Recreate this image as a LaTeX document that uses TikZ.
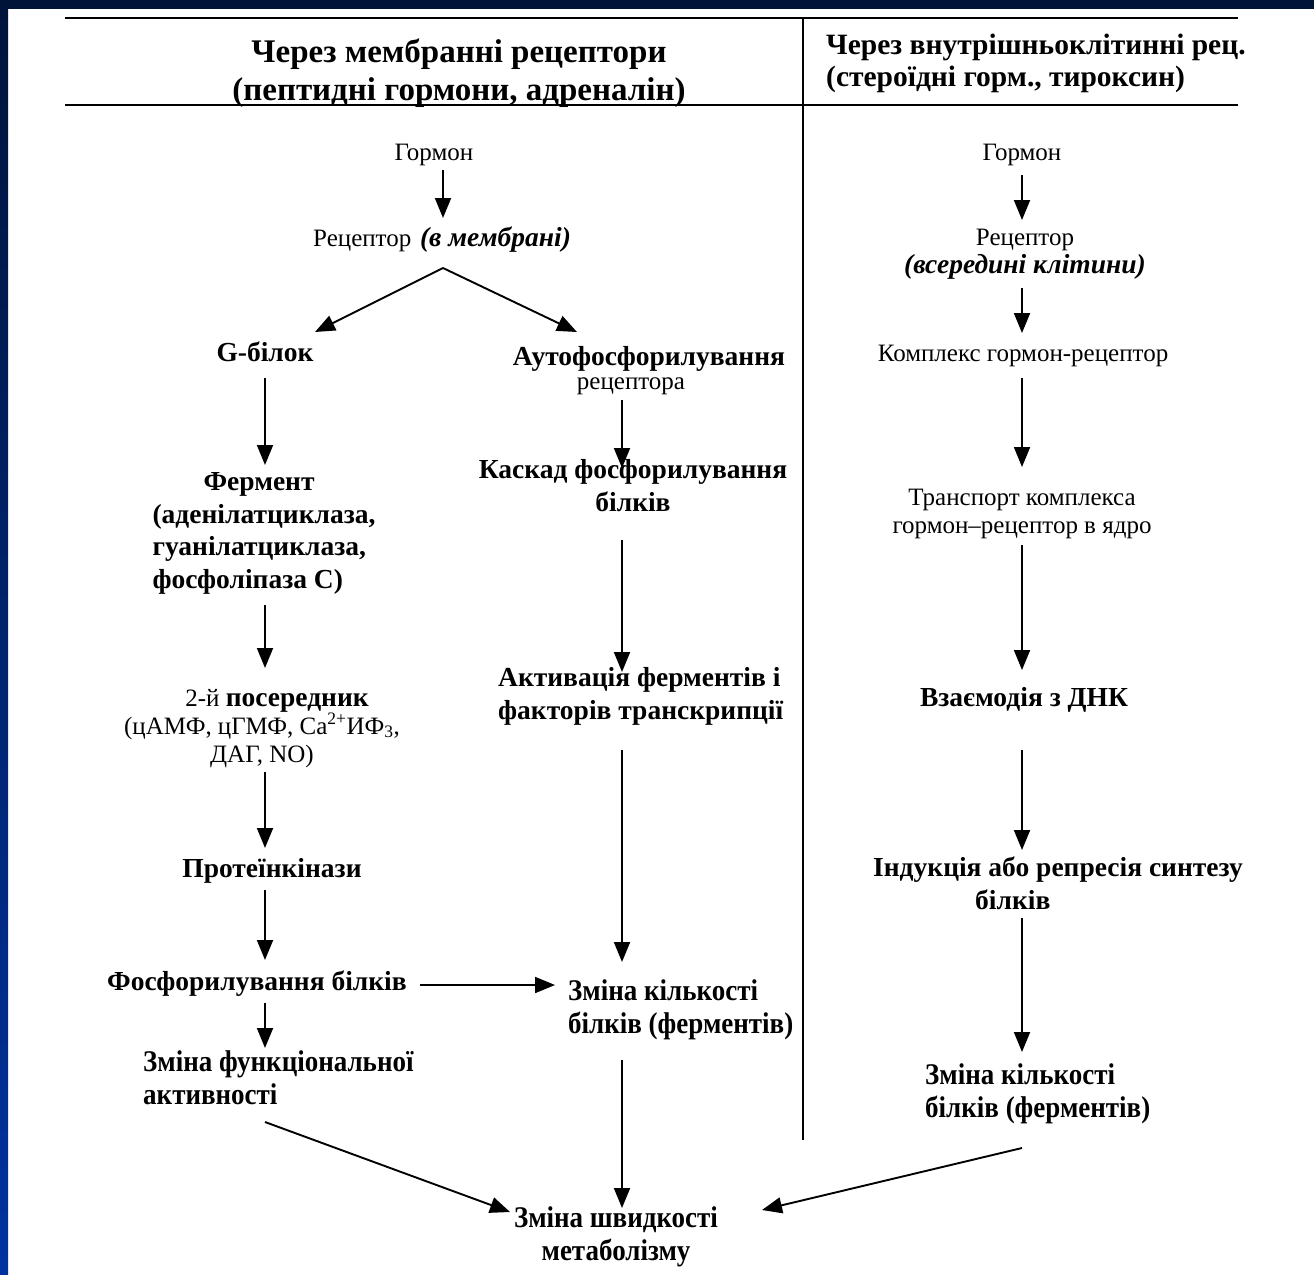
\documentclass[tikz,border=0pt]{standalone}
\usepackage{fontspec}
\setmainfont{Liberation Serif}
\newfontfamily\condf[FakeStretch=0.9]{Liberation Serif}
\usetikzlibrary{arrows.meta}
\definecolor{navy}{HTML}{00143A}
\definecolor{barblue}{HTML}{0033A0}
\begin{document}
\begin{tikzpicture}[x=1pt,y=-1pt,
  arr/.style={line width=1.9pt,-{Triangle[length=20pt,width=16pt]}},
  rule/.style={line width=1.6pt},
  reg/.style={inner sep=0pt,font=\fontsize{25}{28}\selectfont},
  bld/.style={inner sep=0pt,font=\fontsize{27.5}{32.5}\selectfont\bfseries},
  cnd/.style={inner sep=0pt,font=\fontsize{30}{32.5}\selectfont\condf\bfseries},
  hdr/.style={inner sep=0pt,font=\fontsize{33}{38}\selectfont\bfseries},
  hdrr/.style={inner sep=0pt,font=\fontsize{29.5}{32}\selectfont\bfseries}]
\useasboundingbox (0,0) rectangle (1314,1274);
\fill[white] (0,0) rectangle (1314,1274);
\fill[navy] (0,0) rectangle (1314,9);
\shade[top color=navy,bottom color=barblue] (0,0) rectangle (8,1274);
% table rules
\coordinate (rtl) at (65,18); \coordinate (rtr) at (1238,18);
\coordinate (rbl) at (65,105); \coordinate (rbr) at (1238,105);
\coordinate (vt) at (803,18); \coordinate (vb) at (803,1140);
\draw[rule] (rtl) -- (rtr);
\draw[rule] (rbl) -- (rbr);
\draw[line width=1.3pt] (vt) -- (vb);
% headers (base = baseline of last line)
\node[hdr,anchor=base,align=center] (hl) at (459,100) {Через мембранні рецептори\\(пептидні гормони, адреналін)};
\node[hdrr,anchor=base west,align=left] (hr) at (826,86) {Через внутрішньоклітинні рец.\\(стероїдні горм., тироксин)};
% left part
\node[reg,anchor=base] (gorm1) at (434,160) {Гормон};
\node[reg,anchor=base west] (rec1) at (313,246) {Рецептор\hspace{0.35em}{\fontsize{27.5}{28}\selectfont\bfseries\itshape (в мембрані)}};
\node[bld,anchor=base] (gbil) at (265,361) {G-білок};
\node[bld,anchor=base,align=left] (ferm) at (264,588) {\hspace*{51pt}Фермент\\(аденілатциклаза,\\гуанілатциклаза,\\фосфоліпаза C)};
\node[reg,anchor=base,align=center] (pos) at (262,762) {\hspace*{30pt}2-й {\fontsize{27.5}{28}\selectfont\bfseries посередник}\\(цАМФ, цГМФ, Ca\textsuperscript{2+}ИФ\textsubscript{3},\\ДАГ, NO)};
\node[bld,anchor=base] (prot) at (272,877) {Протеїнкінази};
\node[bld,anchor=base west] (fosf) at (107,990) {Фосфорилування білків};
\node[cnd,anchor=base west,align=left] (zfun) at (143,1104) {Зміна функціональної\\активності};
% middle
\node[bld,anchor=base,align=center] (auto) at (649,389) {Аутофосфорилування\\[-9pt]{\mdseries\fontsize{25}{26}\selectfont рецептора\hspace*{36pt}}};
\node[bld,anchor=base,align=center] (kask) at (633,511) {Каскад фосфорилування\\білків};
\node[bld,anchor=base west,align=left] (akt) at (498,719) {Активація ферментів і\\факторів транскрипції};
\node[cnd,anchor=base west,align=left] (zk1) at (568,1033) {Зміна кількості\\білків (ферментів)};
\node[cnd,anchor=base,align=center] (zsh) at (616,1260) {Зміна швидкості\\метаболізму};
% right
\node[reg,anchor=base] (gorm2) at (1022,160) {Гормон};
\node[reg,anchor=base,align=center] (rec2) at (1025,273) {Рецептор\\{\fontsize{27.5}{28}\selectfont\bfseries\itshape (всередині клітини)}};
\node[reg,anchor=base] (kompl) at (1023,361) {Комплекс гормон-рецептор};
\node[reg,anchor=base,align=center] (transp) at (1022,533) {Транспорт комплекса\\гормон--рецептор в ядро};
\node[bld,anchor=base] (vzaem) at (1024,706) {Взаємодія з ДНК};
\node[bld,anchor=base west,align=left] (ind) at (873,909) {Індукція або репресія синтезу\\\hspace*{102pt}білків};
\node[cnd,anchor=base west,align=left] (zk2) at (925,1117) {Зміна кількості\\білків (ферментів)};
% arrow end points
\coordinate (a1s) at (443,170); \coordinate (a1e) at (443,218);
\coordinate (br) at (443,268); \coordinate (brl) at (315,332); \coordinate (brr) at (577,332);
\coordinate (l1s) at (265,378); \coordinate (l1e) at (265,465);
\coordinate (l2s) at (265,605); \coordinate (l2e) at (265,668);
\coordinate (l3s) at (265,772); \coordinate (l3e) at (265,848);
\coordinate (l4s) at (265,890); \coordinate (l4e) at (265,960);
\coordinate (l5s) at (265,1003); \coordinate (l5e) at (265,1048);
\coordinate (hs) at (420,985); \coordinate (he) at (555,985);
\coordinate (l6s) at (265,1122); \coordinate (l6e) at (510,1212);
\coordinate (m1s) at (622,400); \coordinate (m1e) at (622,468);
\coordinate (m2s) at (622,540); \coordinate (m2e) at (622,672);
\coordinate (m3s) at (622,750); \coordinate (m3e) at (622,962);
\coordinate (m4s) at (622,1060); \coordinate (m4e) at (622,1208);
\coordinate (r1s) at (1022,175); \coordinate (r1e) at (1022,220);
\coordinate (r2s) at (1022,288); \coordinate (r2e) at (1022,333);
\coordinate (r3s) at (1022,378); \coordinate (r3e) at (1022,467);
\coordinate (r4s) at (1022,545); \coordinate (r4e) at (1022,670);
\coordinate (r5s) at (1022,750); \coordinate (r5e) at (1022,850);
\coordinate (r6s) at (1022,918); \coordinate (r6e) at (1022,1052);
\coordinate (r7s) at (1022,1148); \coordinate (r7e) at (762,1210);
% arrows
\draw[arr] (a1s) -- (a1e);
\draw[arr] (br) -- (brl);
\draw[arr] (br) -- (brr);
\draw[arr] (l1s) -- (l1e);
\draw[arr] (l2s) -- (l2e);
\draw[arr] (l3s) -- (l3e);
\draw[arr] (l4s) -- (l4e);
\draw[arr] (l5s) -- (l5e);
\draw[arr] (hs) -- (he);
\draw[arr] (l6s) -- (l6e);
\draw[arr] (m1s) -- (m1e);
\draw[arr] (m2s) -- (m2e);
\draw[arr] (m3s) -- (m3e);
\draw[arr] (m4s) -- (m4e);
\draw[arr] (r1s) -- (r1e);
\draw[arr] (r2s) -- (r2e);
\draw[arr] (r3s) -- (r3e);
\draw[arr] (r4s) -- (r4e);
\draw[arr] (r5s) -- (r5e);
\draw[arr] (r6s) -- (r6e);
\draw[arr] (r7s) -- (r7e);
\end{tikzpicture}
\end{document}
